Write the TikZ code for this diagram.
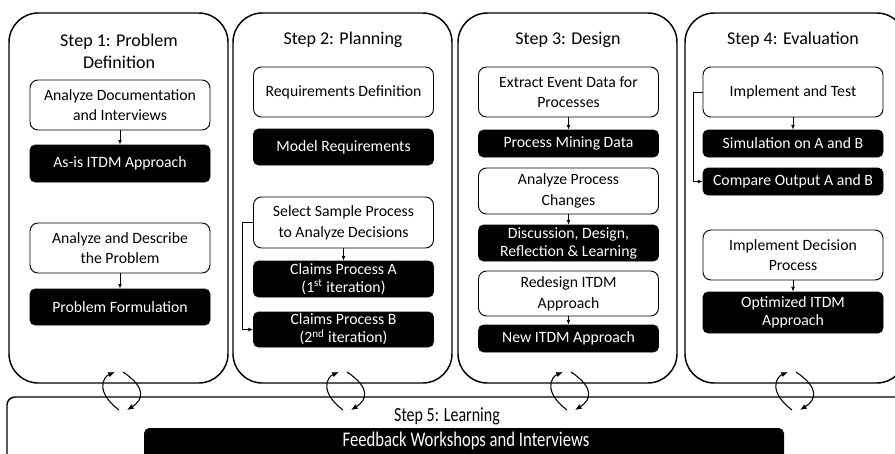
\documentclass[tikz,border=0pt]{standalone}
\usepackage{fontspec}
\setmainfont{Carlito}
\usetikzlibrary{arrows.meta}

\begin{document}
\begin{tikzpicture}[x = .75pt, y = -.75pt]
    \tikzstyle{phase}=[draw,line width = 1.1pt,rounded corners = 22pt]
    \tikzstyle{title}=[font=\fontsize{13.5}{16.5}\selectfont,align=center]
    \tikzstyle{task}=[draw,line width = .7pt,rounded corners = 6pt,fill=white,minimum width = 135pt,inner sep = 0pt,align=center,font=\fontsize{11.8}{15.5}\selectfont]
    \tikzstyle{result}=[task,fill=black,text=white,rounded corners = 4pt,font=\fontsize{11.8}{13.5}\selectfont]
    \tikzstyle{edge}=[draw,line width = .6pt,-{Latex[length=3.5pt,width=3pt]},black]
    \tikzstyle{loop}=[draw,line width = .8pt,-{Latex[length=5pt,width=4pt]},black]
    \clip (0,0) rectangle (895,453);
    \fill[white] (0,0) rectangle (895,453);
    % the four phases
    \draw[phase] (9,13) rectangle (228,383);
    \draw[phase] (233,13) rectangle (452,383);
    \draw[phase] (458,13) rectangle (677,383);
    \draw[phase] (685,13) rectangle (906,383);
    \node[title] (t1) at (119,51) {Step 1: Problem\\Definition};
    \node[title] (t2) at (343,40) {Step 2: Planning};
    \node[title] (t3) at (568,40) {Step 3: Design};
    \node[title] (t4) at (793,40) {Step 4: Evaluation};
    % step 1
    \node[task,minimum height = 37.5pt] (p1a) at (120,105) {Analyze Documentation\\and Interviews};
    \node[result,minimum height = 27.75pt] (p1b) at (120,163.5) {As-is ITDM Approach};
    \node[task,minimum height = 37.5pt] (p1c) at (120,248) {Analyze and Describe\\the Problem};
    \node[result,minimum height = 27pt] (p1d) at (120,307) {Problem Formulation};
    \draw[edge] (p1a) -- (p1b);
    \draw[edge] (p1c) -- (p1d);
    % step 2
    \node[task,minimum height = 37.5pt] (p2a) at (343.5,92) {Requirements Definition};
    \node[result,minimum height = 27pt] (p2b) at (343.5,147) {Model Requirements};
    \node[task,minimum height = 38.25pt] (p2c) at (343.5,222.5) {Select Sample Process\\to Analyze Decisions};
    \node[result,minimum height = 27pt] (p2d) at (343.5,279) {Claims Process A\\(1\textsuperscript{st} iteration)};
    \node[result,minimum height = 26.25pt] (p2e) at (343.5,329.5) {Claims Process B\\(2\textsuperscript{nd} iteration)};
    \draw[edge] (p2c) -- (p2d);
    \draw[edge] (p2c.west) -- ++(-11,0) |- (p2e.west);
    % step 3
    \node[task,minimum height = 37.5pt] (p3a) at (568.5,92) {Extract Event Data for\\Processes};
    \node[result,minimum height = 20.25pt] (p3b) at (568.5,143.5) {Process Mining Data};
    \node[task,minimum height = 34.5pt] (p3c) at (568.5,191) {Analyze Process\\Changes};
    \node[result,minimum height = 27pt] (p3d) at (568.5,243) {Discussion, Design,\\Reflection \& Learning};
    \node[task,minimum height = 33.75pt] (p3e) at (568.5,293.5) {Redesign ITDM\\Approach};
    \node[result,minimum height = 20.25pt] (p3f) at (568.5,338.5) {New ITDM Approach};
    \draw[edge] (p3a) -- (p3b);
    \draw[edge] (p3c) -- (p3d);
    \draw[edge] (p3e) -- (p3f);
    % step 4
    \node[task,minimum height = 37.5pt] (p4a) at (793,92) {Implement and Test};
    \node[result,minimum height = 20.25pt] (p4b) at (793,143.5) {Simulation on A and B};
    \node[result,minimum height = 20.25pt] (p4c) at (793,181.5) {Compare Output A and B};
    \node[task,minimum height = 37.5pt] (p4d) at (793,255) {Implement Decision\\Process};
    \node[result,minimum height = 30.75pt] (p4e) at (793,312.5) {Optimized ITDM\\Approach};
    \draw[edge] (p4a) -- (p4b);
    \draw[edge] (p4a.west) -- ++(-9,0) |- (p4c.west);
    \draw[edge] (p4d) -- (p4e);
    % step 5
    \draw[line width = 1.1pt,rounded corners = 6pt] (7,397) rectangle (920,480);
    \node[font=\fontsize{12}{14}\selectfont] (t5) at (447,416) {\scalebox{1}[1.25]{Step 5: Learning}};
    \fill[black,rounded corners = 4pt] (144,428) rectangle (784,470);
    \node[text=white,font=\fontsize{12.5}{14}\selectfont] (fb) at (466,441) {\scalebox{1}[1.25]{Feedback Workshops and Interviews}};
    % feedback loops
    \foreach \i/\cx in {1/121,2/345,3/569,4/794}{
        \coordinate (la\i) at (\cx-2,410);
        \coordinate (lb\i) at (\cx-6,372);
        \coordinate (ra\i) at (\cx+2,372);
        \coordinate (rb\i) at (\cx+6,410);
        \draw[loop] (la\i) .. controls (\cx-26,392) and (\cx-18,377) .. (lb\i);
        \draw[loop] (ra\i) .. controls (\cx+26,388) and (\cx+22,400) .. (rb\i);
    }
\end{tikzpicture}
\end{document}
